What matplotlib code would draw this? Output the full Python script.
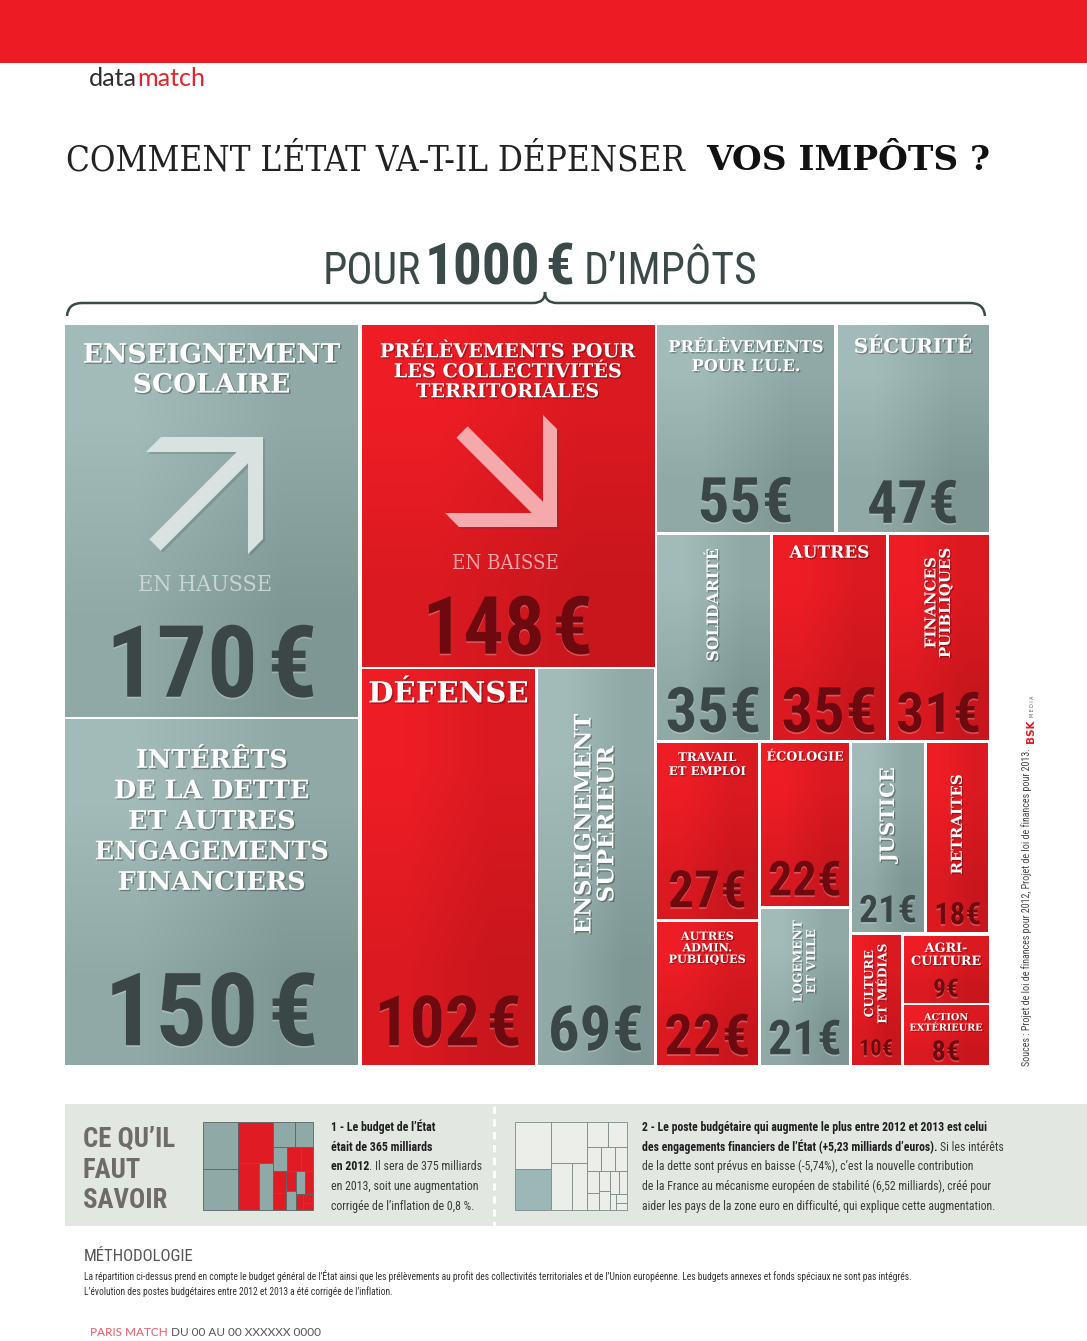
"""Paris Match datamatch: how the State spends 1000 EUR of taxes (2013 budget treemap)."""

import matplotlib
matplotlib.use("Agg")
import matplotlib.pyplot as plt
import matplotlib.patheffects as pe
from matplotlib import font_manager
from matplotlib.colors import to_rgb
from matplotlib.patches import Rectangle, Polygon, PathPatch
from matplotlib.path import Path
import numpy as np

# ---- data ----
postes = [
    "ENSEIGNEMENT\nSCOLAIRE",
    "INTÉRÊTS\nDE LA DETTE\nET AUTRES\nENGAGEMENTS\nFINANCIERS",
    "PRÉLÈVEMENTS POUR\nLES COLLECTIVITÉS\nTERRITORIALES",
    "DÉFENSE",
    "ENSEIGNEMENT\nSUPÉRIEUR",
    "PRÉLÈVEMENTS\nPOUR L’U.E.",
    "SÉCURITÉ",
    "SOLIDARITÉ",
    "AUTRES",
    "FINANCES\nPUIBLIQUES",
    "TRAVAIL\nET EMPLOI",
    "ÉCOLOGIE",
    "AUTRES\nADMIN.\nPUBLIQUES",
    "LOGEMENT\nET VILLE",
    "JUSTICE",
    "RETRAITES",
    "CULTURE\nET MÉDIAS",
    "AGRI-\nCULTURE",
    "ACTION\nEXTÉRIEURE",
]
montants = [170, 150, 148, 102, 69, 55, 47, 35, 35, 31, 27, 22, 22, 21, 21, 18, 10, 9, 8]
groupes = ["g", "g", "r", "r", "g", "g", "g", "g", "r", "r",
           "r", "r", "r", "g", "g", "r", "r", "r", "r"]
tendance = {0: "EN HAUSSE", 2: "EN BAISSE"}

# slice-and-dice structure of the treemap ("h" = side by side, "v" = stacked)
structure = ("h", [
    ("v", [0, 1]),
    ("v", [2, ("h", [3, 4])]),
    ("v", [("h", [5, 6]),
           ("h", [7, 8, 9]),
           ("h", [("v", [10, 12]), ("v", [11, 13]),
                  ("v", [("h", [14, 15]), ("h", [16, ("v", [17, 18])])])])]),
])

# ---- styles (per tile) ----
# label: (rotation, longest line px, top pad px | centre fraction, line step px)
LABEL_STYLE = [
    (0, 257, 18, 30), (0, 234, 29, 30.5), (0, 255, 18, 20), (0, 160, 11, 0),
    (90, 220, 0.39, 0), (0, 155, 15, 19), (0, 118, 13, 0), (90, 113, 0.34, 0),
    (0, 80, 10, 0), (90, 110, 0.33, 0), (0, 77, 9, 14), (0, 77, 8, 0),
    (0, 77, 9, 11.5), (90, 82, 0.33, 0), (90, 95, 0.38, 0), (90, 100, 0.43, 0),
    (90, 80, 0.37, 0), (0, 70, 7, 13), (0, 73, 7, 10.5),
]
# value: (cap height px, bottom pad px)
VALUE_STYLE = [
    (72, 20), (73, 20), (58, 13), (50, 20), (45, 15), (45, 10), (43, 9),
    (45, 8), (45, 8), (45, 8), (37, 12), (37, 11), (41, 11), (37, 11), (31, 10),
    (25, 8), (20, 10), (18, 6), (20, 5),
]
FILL = {"g": ("#a2bbb9", "#7f9794"), "r": ("#ee1d25", "#c9161d")}
VALUE_COLOR = {"g": "#3a4746", "r": "#6e0a0f"}
RED = "#ed1c24"
SLATE = "#3b4a48"

_have = {f.name for f in font_manager.fontManager.ttflist}


def pick(*names):
    for n in names:
        if n in _have:
            return n
    return "DejaVu Sans"


NARROW = pick("Liberation Sans Narrow", "Roboto Condensed", "Open Sans Condensed", "DejaVu Sans")
SLAB = pick("DejaVu Serif", "Liberation Serif")
THIN = pick("Lato", "Open Sans", "DejaVu Sans")

fig = plt.figure(figsize=(10.87, 13.41), dpi=100)
ax = fig.add_axes([0, 0, 1, 1])
ax.set_xlim(0, 1087)
ax.set_ylim(1341, 0)
ax.axis("off")
R = fig.canvas.get_renderer()


def measure(s, **kw):
    t = ax.text(0, 0, s, **kw)
    bb = t.get_window_extent(renderer=R)
    t.remove()
    return bb.width


def fit(s, width, ref=20, **kw):
    return ref * width / measure(s, fontsize=ref, **kw)


def node_total(node):
    if isinstance(node, int):
        return montants[node]
    return sum(node_total(k) for k in node[1])


def layout(node, x0, y0, x1, y1, out):
    if isinstance(node, int):
        out[node] = (x0, y0, x1, y1)
        return out
    orient, kids = node
    tot = node_total(node)
    pos = x0 if orient == "h" else y0
    for k in kids:
        frac = node_total(k) / tot
        if orient == "h":
            w = (x1 - x0) * frac
            layout(k, pos, y0, pos + w, y1, out)
            pos += w
        else:
            h = (y1 - y0) * frac
            layout(k, x0, pos, x1, pos + h, out)
            pos += h
    return out


def gradient(x0, y0, x1, y1, c0, c1):
    a, b = np.array(to_rgb(c0)), np.array(to_rgb(c1))
    m = (a + b) / 2
    img = np.array([[a, m], [m, b]])
    ax.imshow(img, extent=(x0, x1, y1, y0), interpolation="bilinear",
              aspect="auto", zorder=1)


def run_sizes(parts, scale=1.0):
    sizes = []
    for p in parts:
        s, kw = p[0], dict(p[1])
        gap = p[2] * scale if len(p) > 2 else 0.0
        kw["fontsize"] = kw.get("fontsize", 10) * scale
        if s.startswith(" "):
            gap += measure("a a", **kw) - measure("aa", **kw)
            s = s.lstrip()
        sizes.append((s, kw, gap, measure(s, **kw)))
    return sizes


def runs(x, y, parts, ha="left", scale=1.0, **extra):
    """Draw text runs [(text, kw[, gap])] one after another on a baseline."""
    sizes = run_sizes(parts, scale)
    total = sum(g + w for _, _, g, w in sizes)
    if ha == "center":
        x -= total / 2
    for s, kw, gap, w in sizes:
        x += gap
        ax.text(x, y, s, ha="left", va="baseline", **kw, **extra)
        x += w
    return total


def runs_width(parts):
    return sum(g + w for _, _, g, w in run_sizes(parts))


# ---- header ----
ax.add_patch(Rectangle((0, 0), 1087, 63, color=RED, lw=0, zorder=2))
dm = [("data", dict(family=THIN, color="#2e2e2e", fontsize=18)),
      ("match", dict(family=THIN, color="#e3242b", fontsize=18))]
runs(89, 86, dm, scale=116 / runs_width(dm))

t1 = "COMMENT L’ÉTAT VA-T-IL DÉPENSER"
fs = fit(t1, 620, family=SLAB, fontstretch="condensed")
ax.text(66, 170, t1, family=SLAB, fontstretch="condensed", fontsize=fs,
        color="#222222", va="baseline")
t2 = "VOS IMPÔTS ?"
fs2 = fit(t2, 284, family=SLAB, fontweight="bold")
ax.text(990, 170, t2, family=SLAB, fontweight="bold", fontsize=fs2,
        color="#111111", va="baseline", ha="right")

cond = dict(family=NARROW, fontstretch="condensed", color=SLATE)
pour = [("POUR", dict(cond, fontsize=36)),
        ("1000", dict(cond, fontweight="bold", fontsize=47), 4),
        ("€", dict(cond, fontweight="bold", fontsize=47), 6),
        (" D’IMPÔTS", dict(cond, fontsize=36))]
runs(540, 284, pour, ha="center", scale=435 / runs_width(pour))

brace = Path(
    [(67, 316), (68, 303), (82, 303), (533, 303), (545, 303), (545, 292),
     (545, 303), (557, 303), (970, 303), (984, 303), (985, 316)],
    [Path.MOVETO, Path.CURVE3, Path.CURVE3, Path.LINETO, Path.CURVE3, Path.CURVE3,
     Path.CURVE3, Path.CURVE3, Path.LINETO, Path.CURVE3, Path.CURVE3])
ax.add_patch(PathPatch(brace, fill=False, edgecolor=SLATE, lw=1.8, zorder=2))

# ---- treemap ----
GAP = 1.75
rects = layout(structure, 63.5, 323.5, 990, 1067, {})
shadow = [pe.withSimplePatchShadow(offset=(1, -1), shadow_rgbFace="black", alpha=0.3)]
val_shadow = [pe.withSimplePatchShadow(offset=(0, -1.2), shadow_rgbFace="white", alpha=0.25)]

for i, (x0, y0, x1, y1) in rects.items():
    x0, y0, x1, y1 = x0 + GAP, y0 + GAP, x1 - GAP, y1 - GAP
    g = groupes[i]
    gradient(x0, y0, x1, y1, *FILL[g])
    cx = (x0 + x1) / 2

    rot, length, pos, step = LABEL_STYLE[i]
    lab_kw = dict(family=SLAB, fontweight="bold")
    fs = fit(postes[i], length, **lab_kw)
    if rot == 0:
        for k, line in enumerate(postes[i].split("\n")):
            ax.text(cx, y0 + pos + fs * 1.01 + k * step, line, ha="center",
                    va="baseline", fontsize=fs, color="white", zorder=4,
                    path_effects=shadow, **lab_kw)
    else:
        ax.text(cx, y0 + pos * (y1 - y0), postes[i], ha="center", va="center",
                rotation=90, rotation_mode="anchor", multialignment="center",
                linespacing=1.05, fontsize=fs, color="white", zorder=4,
                path_effects=shadow, **lab_kw)

    cap, pad = VALUE_STYLE[i]
    v = montants[i]
    val_kw = dict(family=NARROW, fontstretch="condensed", fontweight="bold",
                  color=VALUE_COLOR[g], fontsize=cap)
    gap = 0.13 * cap if v >= 100 else 0.02 * cap
    parts = [(str(v), val_kw), ("€", val_kw, gap)]
    sc = min(1.0, ((x1 - x0) - 14) / runs_width(parts))
    runs(cx, y1 - pad, parts, ha="center", scale=sc, zorder=4, path_effects=val_shadow)


def arrow(cx, cy, sy, L, Ls, t, h, color):
    r2 = np.sqrt(2)
    pts = [(cx - L, cy), (cx, cy), (cx, cy + sy * L), (cx - t, cy + sy * (L + t)),
           (cx - t, cy + sy * (t + r2 * h)),
           (cx - Ls + h / r2, cy + sy * (Ls + h / r2)),
           (cx - Ls - h / r2, cy + sy * (Ls - h / r2)),
           (cx - t - r2 * h, cy + sy * t), (cx - L - t, cy + sy * t)]
    ax.add_patch(Polygon(pts, closed=True, facecolor=color, edgecolor="none", zorder=3,
                         path_effects=[pe.SimplePatchShadow(offset=(1.5, -1.5), alpha=0.2), pe.Normal()]))


arrow(263, 437, 1, 102, 108, 15, 8, "#d8e2e0")
arrow(557, 527, -1, 98, 95, 14, 8, "#f5a9ad")
fsh = fit(tendance[0], 134, family=SLAB, fontstretch="condensed")
ax.text(205, 591, tendance[0], family=SLAB, fontstretch="condensed", fontsize=fsh,
        color="#c8d5d3", ha="center", va="baseline", zorder=4)
fsb = fit(tendance[2], 107, family=SLAB, fontstretch="condensed")
ax.text(505, 569, tendance[2], family=SLAB, fontstretch="condensed", fontsize=fsb,
        color="#f4a3a7", ha="center", va="baseline", zorder=4)

# ---- sources (vertical) ----
src = "Souces : Projet de loi de finances pour 2012, Projet de loi de finances pour 2013."
fss = fit(src, 318, family=NARROW, fontstretch="condensed")
ax.text(1027, 1066, src, family=NARROW, fontstretch="condensed", fontsize=fss, color="#444444",
        rotation=90, ha="center", va="bottom")
ax.text(1031, 743, "BSK", family="DejaVu Sans", fontweight="bold", fontsize=7.5,
        color="#e0202a", rotation=90, ha="center", va="bottom")
ax.text(1032, 717, "M E D I A", family="DejaVu Sans", fontsize=3.4,
        color="#555555", rotation=90, ha="center", va="bottom")

# ---- "ce qu'il faut savoir" box ----
ax.add_patch(Rectangle((65, 1104), 1022, 122, color="#e3e7e2", lw=0, zorder=1))
ax.plot([494, 494], [1106, 1226], color="white", lw=2.2, ls=(0, (2.4, 1.8)), zorder=2)
cq_kw = dict(family=NARROW, fontstretch="condensed", fontweight="bold", color="#6f6b68")
fcq = fit("CE QU’IL", 92, **cq_kw)
for k, line in enumerate(["CE QU’IL", "FAUT", "SAVOIR"]):
    ax.text(83, 1147 + k * 30.5, line, fontsize=fcq, va="baseline", **cq_kw)

small = layout(structure, 203, 1122, 313, 1210, {})
for i, (x0, y0, x1, y1) in small.items():
    fc = "#8fa9a7" if groupes[i] == "g" else "#e01b23"
    ax.add_patch(Rectangle((x0, y0), x1 - x0, y1 - y0, facecolor=fc,
                           edgecolor="#566665", lw=0.6, zorder=3))
small2 = layout(structure, 515, 1122, 627, 1210, {})
for i, (x0, y0, x1, y1) in small2.items():
    fc = "#9bb7b6" if i == 1 else "#eceee9"
    ax.add_patch(Rectangle((x0, y0), x1 - x0, y1 - y0, facecolor=fc,
                           edgecolor="#7d8a88", lw=0.6, zorder=3))

B = dict(family=NARROW, fontstretch="condensed", fontweight="bold", color="#1e1e1e", fontsize=10)
N = dict(family=NARROW, fontstretch="condensed", color="#3a3a3a", fontsize=10)
para1 = [
    [("1 - Le budget de l’État", B)],
    [("était de 365 milliards", B)],
    [("en 2012", B), (". Il sera de 375 milliards", N)],
    [("en 2013, soit une augmentation", N)],
    [("corrigée de l’inflation de 0,8 %.", N)],
]
para2 = [
    [("2 - Le poste budgétaire qui augmente le plus entre 2012 et 2013 est celui", B)],
    [("des engagements financiers de l’État (+5,23 milliards d’euros).", B), (" Si les intérêts", N)],
    [("de la dette sont prévus en baisse (-5,74%), c’est la nouvelle contribution", N)],
    [("de la France au mécanisme européen de stabilité (6,52 milliards), créé pour", N)],
    [("aider les pays de la zone euro en difficulté, qui explique cette augmentation.", N)],
]
for x, para, width in [(331, para1, 150), (642, para2, 360)]:
    sc = min(1.0, width / max(runs_width(l) for l in para))
    for k, line in enumerate(para):
        runs(x, 1131 + k * 19.7, line, scale=sc)

# ---- methodology & footer ----
ax.text(84, 1261, "MÉTHODOLOGIE", family=NARROW, fontstretch="condensed",
        fontsize=fit("MÉTHODOLOGIE", 111, family=NARROW, fontstretch="condensed"),
        color="#555555", va="baseline")
m1 = ("La répartition ci-dessus prend en compte le budget général de l’État ainsi que les "
      "prélèvements au profit des collectivités territoriales et de l’Union européenne. "
      "Les budgets annexes et fonds spéciaux ne sont pas intégrés.")
m2 = "L’évolution des postes budgétaires entre 2012 et 2013 a été corrigée de l’inflation."
fm = min(7.5, fit(m1, 829, family=NARROW, fontstretch="condensed"))
for k, line in enumerate([m1, m2]):
    ax.text(84, 1280 + k * 15, line, family=NARROW, fontstretch="condensed", fontsize=fm,
            color="#333333", va="baseline")

foot = [("PARIS MATCH", dict(family=THIN, color="#ec5a63", fontsize=8)),
        (" DU 00 AU 00 XXXXXX 0000", dict(family=THIN, color="#555555", fontsize=8))]
runs(90, 1336, foot, scale=231 / runs_width(foot))

ax.set_xlim(0, 1087)
ax.set_ylim(1341, 0)
fig.savefig("out.png", dpi=100, facecolor="white")
plt.close(fig)
